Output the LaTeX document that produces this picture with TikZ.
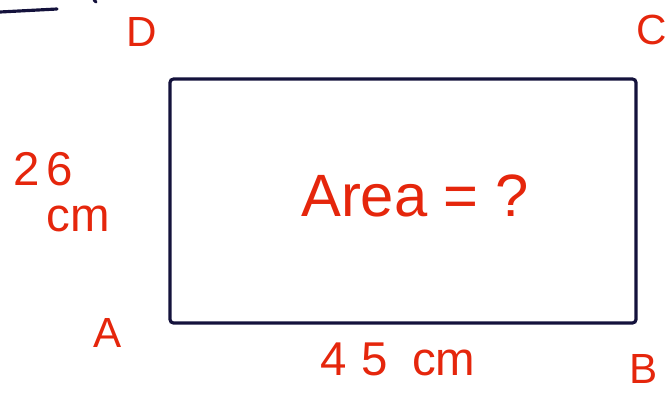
\documentclass[tikz,border=0pt]{standalone}
\usepackage{fontspec}
\setmainfont{Liberation Sans}
\usepackage{tikz}
\usetikzlibrary{positioning}
\definecolor{ink900} {HTML}{14123C}
\definecolor{red600} {HTML}{E5260C}
\tikzset{
  rect/.style  ={draw=ink900, line width=1.8pt, rounded corners=2pt},
  pen/.style   ={draw=ink900, line width=1.8pt, line cap=round},
  vtx/.style   ={text=red600, font=\fontsize{24}{28}\selectfont, inner sep=0pt},
  dim/.style   ={text=red600, font=\fontsize{27}{30}\selectfont, inner sep=0pt,
                 align=center},
  big/.style   ={text=red600, font=\fontsize{34}{40}\selectfont, inner sep=0pt}
}
\begin{document}
\begin{tikzpicture}
\useasboundingbox (0,0) rectangle (13.34,7.84);
% rectangle ABCD
\coordinate (sw) at (3.40,1.38);
\coordinate (ne) at (12.72,6.26);
\draw[rect] (sw) rectangle (ne);
% stray pen strokes
\draw[pen] (0,7.60) -- (1.14,7.66);
\draw[pen] (1.88,7.84) -- (1.92,7.80);
% corner letters
\node[vtx] (d) at (2.84,7.20) {D};
\node[vtx] (c) at (13.04,7.24) {C};
\node[vtx] (a) at (2.16,1.18) {A};
\node[vtx] (b) at (12.88,0.46) {B};
% side lengths
\node[dim] (left) at (0.86,4.46) {2\hspace{4pt}6};
\node[dim] (leftu) at (1.56,3.46) {cm};
\node[dim] (bottom) at (7.96,0.66) {4\hspace{8pt}5\hspace{14pt}cm};
% question
\node[big] (area) at (8.30,3.92) {Area = ?};
\end{tikzpicture}
\end{document}
